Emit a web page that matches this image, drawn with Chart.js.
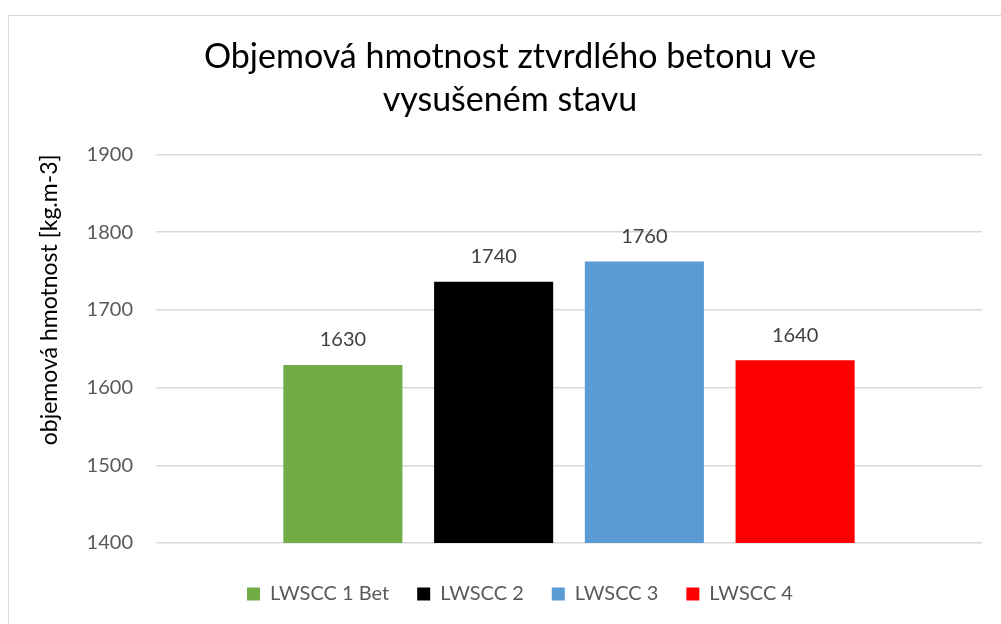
<!DOCTYPE html>
<html>
<head>
<meta charset="utf-8">
<script src="https://cdn.jsdelivr.net/npm/chart.js@4"></script>
<style>
  html, body { margin: 0; padding: 0; background: #fff; }
  #ramecek {
    position: absolute; left: 8px; top: 15px; width: 1010px; height: 640px;
    border: 1px solid #d9d9d9; box-sizing: border-box;
  }
  #obal { position: absolute; left: 0; top: 0; width: 1001px; height: 624px; }
</style>
</head>
<body>
<div id="ramecek"></div>
<div id="obal"><canvas id="graf"></canvas></div>
<script>
// data grafu
var kategorie = [''];
var nazvy = ['LWSCC 1 Bet', 'LWSCC 2', 'LWSCC 3', 'LWSCC 4'];
var hodnoty = [1629, 1736, 1762, 1635];
var barvy = ['#70ad47', '#000000', '#5b9bd5', '#ff0000'];
var osaY = [1400, 1500, 1600, 1700, 1800, 1900];

var pismo = 'Lato, "Noto Sans", sans-serif';

// popisky nad sloupci
var popisky = {
  id: 'popisky',
  afterLayout: function(chart) {
    // excel centruje legendu a nadpis trochu vic vpravo
    chart.legend.left += 16;
    chart.legend.right += 16;
    chart.titleBlock.left += 6;
    chart.titleBlock.right += 6;
  },
  afterDatasetsDraw: function(chart) {
    var ctx = chart.ctx;
    ctx.save();
    ctx.fillStyle = '#404040';
    ctx.font = '20px ' + pismo;
    ctx.textAlign = 'center';
    ctx.textBaseline = 'middle';
    chart.data.datasets.forEach(function(ds, i) {
      var meta = chart.getDatasetMeta(i);
      meta.data.forEach(function(el, j) {
        var text = Math.round(ds.data[j] / 10) * 10;
        ctx.fillText(text, el.x, el.y - 25);
      });
    });
    ctx.restore();
  }
};

var datasety = [];
for (var i = 0; i < nazvy.length; i++) {
  datasety.push({
    label: nazvy[i],
    data: [hodnoty[i]],
    backgroundColor: barvy[i],
    barPercentage: 0.79,
    categoryPercentage: 0.73
  });
}

var chart = new Chart(document.getElementById('graf'), {
  type: 'bar',
  data: {
    labels: kategorie,
    datasets: datasety
  },
  options: {
    responsive: true,
    maintainAspectRatio: false,
    animation: false,
    layout: { padding: { left: 26, right: 19, top: 22, bottom: 10 } },
    plugins: {
      title: {
        display: true,
        text: ['Objemová hmotnost ztvrdlého betonu ve', 'vysušeném stavu'],
        color: '#000',
        font: { family: pismo, size: 34, weight: 'normal', lineHeight: 1.27 },
        padding: { top: 13, bottom: 33 }
      },
      legend: {
        position: 'bottom',
        labels: {
          color: '#595959',
          font: { family: pismo, size: 20 },
          boxWidth: 13,
          boxHeight: 13,
          padding: 28
        }
      },
      tooltip: { enabled: false }
    },
    scales: {
      x: {
        grid: { display: false },
        border: { display: false },
        ticks: { display: false },
        afterFit: function(osa) { osa.height += 5; }
      },
      y: {
        min: 1400,
        max: 1900,
        afterBuildTicks: function(axis) {
          axis.ticks = osaY.map(function(v) { return { value: v }; });
        },
        grid: { color: '#d9d9d9', lineWidth: 1.5, drawTicks: false },
        border: { display: false },
        ticks: {
          color: '#595959',
          font: { family: pismo, size: 20 },
          padding: 23,
          callback: function(v) { return String(v); }
        },
        title: {
          display: true,
          text: 'objemová hmotnost [kg.m-3]',
          color: '#000',
          align: 'end',
          font: { family: pismo, size: 23 },
          padding: { top: 10, bottom: 0 }
        }
      }
    }
  },
  plugins: [popisky]
});
</script>
</body>
</html>
